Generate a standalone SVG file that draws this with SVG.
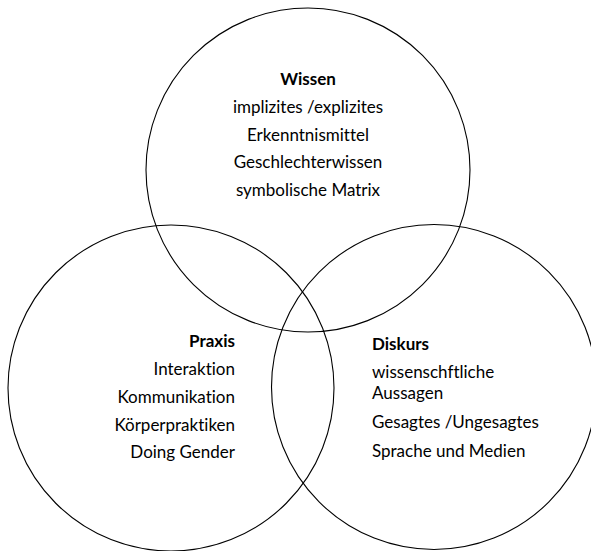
<svg xmlns="http://www.w3.org/2000/svg" width="591" height="551" viewBox="0 0 591 551">
<style>
.c{fill:none;stroke:#000;stroke-width:1.1}
text{font-family:Lato,"Open Sans","Liberation Sans",sans-serif;font-size:17px;fill:#000;font-variant-ligatures:none}
.b{font-weight:bold}
.m{text-anchor:middle}
.r{text-anchor:end}
</style>
<rect width="591" height="551" fill="#fff"/>
<g id="wissen">
<circle class="c" cx="308" cy="170" r="162"/>
<text class="b m" x="308" y="85">Wissen</text>
<text class="m" x="308" y="113">implizites /explizites</text>
<text class="m" x="308" y="141">Erkenntnismittel</text>
<text class="m" x="308" y="168">Geschlechterwissen</text>
<text class="m" x="308" y="196">symbolische Matrix</text>
</g>
<g id="praxis">
<circle class="c" cx="171" cy="388" r="163"/>
<text class="b r" x="235" y="347">Praxis</text>
<text class="r" x="235" y="375">Interaktion</text>
<text class="r" x="235" y="403">Kommunikation</text>
<text class="r" x="235" y="431">Körperpraktiken</text>
<text class="r" x="235" y="458">Doing Gender</text>
</g>
<g id="diskurs">
<circle class="c" cx="434" cy="387" r="162.5"/>
<text class="b" x="372" y="350">Diskurs</text>
<text x="372" y="378">wissenschftliche</text>
<text x="372" y="399">Aussagen</text>
<text x="372" y="428">Gesagtes /Ungesagtes</text>
<text x="372" y="457">Sprache und Medien</text>
</g>
<g id="connectors"/>
</svg>
